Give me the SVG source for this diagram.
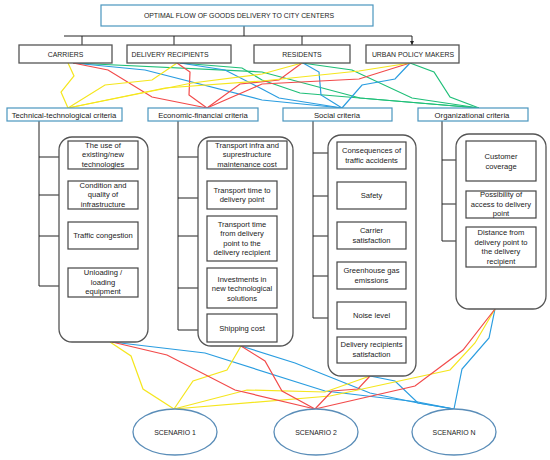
<svg xmlns="http://www.w3.org/2000/svg" width="550" height="460" viewBox="0 0 550 460">
<defs>
<marker id="ah" viewBox="0 0 6 6" refX="6" refY="3" markerWidth="4.5" markerHeight="4.5" markerUnits="userSpaceOnUse" orient="auto"><path d="M0,0 L6,3 L0,6 z" fill="#222"/></marker>
<style>
text{font-family:"Liberation Sans",Arial,sans-serif;fill:#222;text-anchor:middle}
.hd{fill:#fff;stroke:#4a96bf;stroke-width:1.2}
.sk{fill:#fff;stroke:#555;stroke-width:1.3}
.ct{fill:#fff;stroke:#555;stroke-width:1.3}
.ib{fill:#fff;stroke:#444;stroke-width:1.2}
.sc{fill:#fff;stroke:#5a8db8;stroke-width:1.3}
.t1{font-size:6.9px}
.t2{font-size:7.7px}
.t3{font-size:7.6px}
.blk{fill:none;stroke:#222;stroke-width:1}
.ar{fill:none;stroke:#222;stroke-width:1;marker-end:url(#ah)}
.y{fill:none;stroke:#f5e61e;stroke-width:1.2}
.r{fill:none;stroke:#f24a4a;stroke-width:1.2}
.b{fill:none;stroke:#2a9de0;stroke-width:1.2}
.g{fill:none;stroke:#1fbf78;stroke-width:1.2}
</style>
</defs>
<rect width="550" height="460" fill="#fff"/>

<g id="connectors">
<path class="blk" d="M244,26 V36 M64,36 H412"/>
<path class="ar" d="M82,36 V45 M174,36 V45 M302,36 V45 M412,36 V45"/>
<path class="blk" d="M39,121 V286 M178,121 V330 M313,121 V318 M442,121 V241"/>
<path class="ar" d="M39,157 H68 M39,195 H68 M39,236 H68 M39,286 H68"/>
<path class="ar" d="M178,157 H207 M178,198 H207 M178,236 H207 M178,288 H207 M178,330 H207"/>
<path class="ar" d="M313,153 H337 M313,196 H337 M313,236 H337 M313,276 H337 M313,318 H337"/>
<path class="ar" d="M442,160 H466 M442,204 H466 M442,241 H466"/>

<polyline class="g" points="73,63 262,72 360,98 479,108"/>
<polyline class="g" points="180,63 242,68 262,80 300,93 479,108"/>
<polyline class="g" points="302,63 352,70 412,98 479,108"/>
<polyline class="g" points="410,63 434,72 450,97 479,108"/>
<polyline class="b" points="73,63 145,70 262,100 342,108"/>
<polyline class="b" points="180,63 225,70 262,89 279,98 342,108"/>
<polyline class="b" points="303,63 319,72 321,95 342,108"/>
<polyline class="b" points="410,63 395,79 362,85 342,108"/>
<polyline class="r" points="73,63 108,70 152,97 207,108"/>
<polyline class="r" points="177,63 190,72 189,95 207,108"/>
<polyline class="r" points="302,63 279,80 240,84 207,108"/>
<polyline class="r" points="410,63 359,79 262,84 207,108"/>
<polyline class="y" points="68,63 74,76 61,92 68,108"/>
<polyline class="y" points="177,63 152,80 105,85 68,108"/>
<polyline class="y" points="302,63 262,74 192,83 68,108"/>
<polyline class="y" points="410,63 359,71 262,81 165,88 68,108"/>

<polyline class="b" points="112,342 205,353 325,391 418,402 454,409"/>
<polyline class="b" points="241,346 295,363 370,393 418,403 454,409"/>
<polyline class="b" points="370,376 395,381 418,403 454,409"/>
<polyline class="b" points="495,309 489,338 462,369 454,409"/>
<polyline class="y" points="110,342 131,356 143,389 174,409"/>
<polyline class="y" points="241,346 227,370 193,381 174,409"/>
<polyline class="y" points="370,376 325,392 247,390 174,409"/>
<polyline class="y" points="495,309 475,343 450,370 330,396 174,409"/>
<polyline class="r" points="112,342 167,355 235,390 315,409"/>
<polyline class="r" points="241,346 265,361 282,391 315,409"/>
<polyline class="r" points="370,376 358,389 332,391 315,409"/>
<polyline class="r" points="495,309 463,350 415,386 315,409"/>
</g>

<g id="title"><rect class="hd" x="101" y="5" width="272" height="21"/><text class="t1" x="239" y="18">OPTIMAL FLOW OF GOODS DELIVERY TO CITY CENTERS</text></g>

<g id="carriers"><rect class="sk" x="19" y="45" width="93" height="18"/><text class="t1" x="65.5" y="56.5">CARRIERS</text></g>
<g id="delivery-recipients"><rect class="sk" x="127" y="45" width="104" height="18"/><text class="t1" x="170" y="56.5">DELIVERY RECIPIENTS</text></g>
<g id="residents"><rect class="sk" x="254" y="45" width="96" height="18"/><text class="t1" x="302" y="56.5">RESIDENTS</text></g>
<g id="urban-policy-makers"><rect class="sk" x="366" y="45" width="93" height="18"/><text class="t1" x="413" y="56.5">URBAN POLICY MAKERS</text></g>

<g id="technical"><rect class="hd" x="7" y="108" width="115" height="13"/><text class="t2" x="64" y="117.5">Technical-technological criteria</text></g>
<g id="economic"><rect class="hd" x="148" y="108" width="110" height="13"/><text class="t2" x="203" y="117.5">Economic-financial criteria</text></g>
<g id="social"><rect class="hd" x="283" y="108" width="109" height="13"/><text class="t2" x="337" y="117.5">Social criteria</text></g>
<g id="organizational"><rect class="hd" x="418" y="108" width="110" height="13"/><text class="t2" x="472" y="117.5">Organizational criteria</text></g>

<g id="technical-group">
<rect class="ct" x="59" y="137" width="89" height="205" rx="13"/>
<rect class="ib" x="68" y="141" width="70" height="28"/><text class="t3" x="103" y="147.5">The use of</text><text class="t3" x="103" y="157">existing/new</text><text class="t3" x="103" y="166.5">technologies</text>
<rect class="ib" x="68" y="181" width="70" height="28"/><text class="t3" x="103" y="187.5">Condition and</text><text class="t3" x="103" y="197">quality of</text><text class="t3" x="103" y="206.5">infrastructure</text>
<rect class="ib" x="68" y="222" width="70" height="27"/><text class="t3" x="103" y="238">Traffic congestion</text>
<rect class="ib" x="68" y="268" width="70" height="29"/><text class="t3" x="103" y="275">Unloading /</text><text class="t3" x="103" y="284.5">loading</text><text class="t3" x="103" y="294">equipment</text>
</g>

<g id="economic-group">
<rect class="ct" x="198" y="137" width="95" height="209" rx="13"/>
<rect class="ib" x="207" y="141" width="80" height="28"/><text class="t3" x="247" y="147.5">Transport infra and</text><text class="t3" x="247" y="157">suprestructure</text><text class="t3" x="247" y="166.5">maintenance cost</text>
<rect class="ib" x="207" y="181" width="70" height="28"/><text class="t3" x="242" y="192.5">Transport time to</text><text class="t3" x="242" y="202">delivery point</text>
<rect class="ib" x="207" y="216" width="70" height="45"/><text class="t3" x="242" y="226.5">Transport time</text><text class="t3" x="242" y="236">from delivery</text><text class="t3" x="242" y="245.5">point to the</text><text class="t3" x="242" y="255">delivery recipient</text>
<rect class="ib" x="207" y="268" width="70" height="40"/><text class="t3" x="242" y="281.5">Investments  in</text><text class="t3" x="242" y="291">new technological</text><text class="t3" x="242" y="300.5">solutions</text>
<rect class="ib" x="207" y="314" width="70" height="28"/><text class="t3" x="242" y="330.5">Shipping cost</text>
</g>

<g id="social-group">
<rect class="ct" x="328" y="135" width="88" height="241" rx="13"/>
<rect class="ib" x="337" y="142" width="69" height="27"/><text class="t3" x="371.5" y="153">Consequences of</text><text class="t3" x="371.5" y="162.5">traffic accidents</text>
<rect class="ib" x="337" y="182" width="69" height="27"/><text class="t3" x="371.5" y="198">Safety</text>
<rect class="ib" x="337" y="222" width="69" height="27"/><text class="t3" x="371.5" y="233">Carrier</text><text class="t3" x="371.5" y="242.5">satisfaction</text>
<rect class="ib" x="337" y="262" width="69" height="27"/><text class="t3" x="371.5" y="273">Greenhouse gas</text><text class="t3" x="371.5" y="282.5">emissions</text>
<rect class="ib" x="337" y="302" width="69" height="27"/><text class="t3" x="371.5" y="318">Noise level</text>
<rect class="ib" x="337" y="337" width="69" height="26"/><text class="t3" x="371.5" y="347">Delivery recipients</text><text class="t3" x="371.5" y="356.5">satisfaction</text>
</g>

<g id="organizational-group">
<rect class="ct" x="456" y="134" width="90" height="175" rx="13"/>
<rect class="ib" x="466" y="141" width="70" height="40"/><text class="t3" x="501" y="159">Customer</text><text class="t3" x="501" y="168.5">coverage</text>
<rect class="ib" x="466" y="191" width="70" height="27"/><text class="t3" x="501" y="197">Possibility of</text><text class="t3" x="501" y="206.5">access to delivery</text><text class="t3" x="501" y="216">point</text>
<rect class="ib" x="466" y="227" width="70" height="40"/><text class="t3" x="501" y="235">Distance from</text><text class="t3" x="501" y="244.5">delivery point to</text><text class="t3" x="501" y="254">the delivery</text><text class="t3" x="501" y="263.5">recipient</text>
</g>

<g id="scenario-1"><ellipse class="sc" cx="175" cy="432" rx="42" ry="23"/><text class="t1" x="175" y="434.5">SCENARIO 1</text></g>
<g id="scenario-2"><ellipse class="sc" cx="316" cy="432" rx="42" ry="23"/><text class="t1" x="316" y="434.5">SCENARIO 2</text></g>
<g id="scenario-n"><ellipse class="sc" cx="454" cy="432" rx="42" ry="23"/><text class="t1" x="454" y="434.5">SCENARIO N</text></g>
</svg>
